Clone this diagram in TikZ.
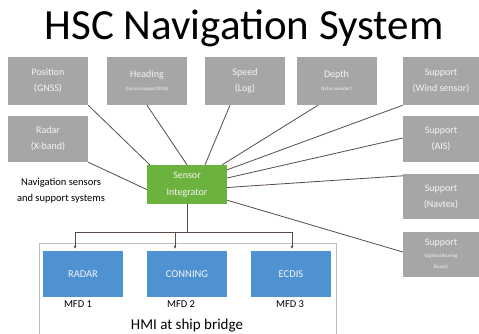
\documentclass[tikz,border=0pt]{standalone}
\usepackage{fontspec}
\setmainfont{Carlito}
\usetikzlibrary{calc,arrows.meta}
\definecolor{boxgray}{RGB}{166,166,166}
\definecolor{txtgray}{RGB}{245,245,245}
\definecolor{sigreen}{RGB}{108,178,62}
\definecolor{mfdblue}{RGB}{78,146,210}
\definecolor{linecol}{RGB}{90,76,68}
\definecolor{hmiframe}{RGB}{190,190,190}
\newcommand{\tinytxt}{\fontsize{5}{6}\selectfont}
\tikzset{
  sensorbox/.style={fill=boxgray, draw=none, minimum width=80pt, minimum height=48pt, inner sep=1pt,
    text=txtgray, align=center, font=\fontsize{10}{16}\selectfont},
  rightbox/.style={sensorbox, minimum width=76pt, minimum height=46pt},
  intbox/.style={fill=sigreen, draw=none, minimum width=80pt, minimum height=39pt, inner sep=1pt,
    text=txtgray, align=center, font=\fontsize{10}{17}\selectfont},
  mfdbox/.style={fill=mfdblue, draw=none, minimum width=80pt, minimum height=46pt,
    text=txtgray, font=\fontsize{10.5}{12}\selectfont},
  link/.style={draw=linecol, line width=0.8pt},
  feed/.style={draw=linecol, line width=0.8pt, -{Latex[length=3pt,width=3pt]}},
  lbl/.style={font=\fontsize{10.5}{12}\selectfont, text=black}
}
\begin{document}
\begin{tikzpicture}[x=1pt,y=-1pt]
\useasboundingbox (0,0) rectangle (479,334);
\fill[white] (0,0) rectangle (479,334);
% title
\node[font=\fontsize{43}{46}\selectfont, anchor=base] (title) at (244,40) {HSC Navigation System};
% HMI frame
\draw[hmiframe, line width=0.8pt] (39,343) -- (39,243) -- (336,243) -- (336,343);
% sensor boxes
\node[sensorbox] (pos) at (48,81) {Position\\(GNSS)};
\node[sensorbox] (head) at (147,81) {Heading\\[-3pt]\tinytxt(Gyrocompass/GNSS)};
\node[sensorbox] (speed) at (245,81) {Speed\\(Log)};
\node[sensorbox] (depth) at (336.5,81) {Depth\\[-3pt]\tinytxt(Echo sounder)};
\node[rightbox, minimum height=48pt] (wind) at (441,81) {Support\\(Wind sensor)};
\node[sensorbox, minimum height=46pt] (radar) at (48,139) {Radar\\(X-band)};
\node[rightbox] (ais) at (441,139) {Support\\(AIS)};
\node[rightbox, minimum height=45pt] (navtex) at (441,196.5) {Support\\(Navtex)};
\node[rightbox, minimum height=45pt] (light) at (441,254.5) {Support\\[-4pt]\tinytxt(Lighted Bearing\\[-5pt]\tinytxt Buoys)};
% integrator
\node[intbox] (si) at (187,184.5) {Sensor\\Integrator};
% caption
\node[align=center, font=\fontsize{10.5}{16}\selectfont] (navtxt) at (61,191) {Navigation sensors\\and support systems};
% MFD boxes
\node[mfdbox] (mradar) at (83,274) {RADAR};
\node[mfdbox] (mconn) at (187,274) {CONNING};
\node[mfdbox] (mecdis) at (291,274) {ECDIS};
\node[lbl] (m1) at (78,304) {MFD 1};
\node[lbl] (m2) at (181,304) {MFD 2};
\node[lbl] (m3) at (290,304) {MFD 3};
\node[font=\fontsize{15}{18}\selectfont, anchor=base] (hmi) at (187,329) {HMI at ship bridge};
% connectors
\draw[link] (pos.south east) -- ($(si.north west)+(3,0)$);
\draw[link] (head.south) -- (si.north);
\draw[link] ($(speed.south)+(-15,0)$) -- ($(si.north)+(18,0)$);
\draw[link] ($(depth.south)+(-18.5,0)$) -- ($(si.north east)+(-5,0)$);
\draw[link] (wind.south west) -- ($(si.north east)+(0,5)$);
\draw[link] ($(ais.west)+(0,-1)$) -- ($(si.east)+(0,-6.5)$);
\draw[link] ($(navtex.north west)+(0,2)$) -- ($(si.east)+(0,3)$);
\draw[link] ($(light.west)+(0,-2.5)$) -- ($(si.south east)+(0,-4)$);
\draw[link] (radar.south east) -- ($(si.west)+(0,5)$);
% bus to MFDs
\coordinate (bj) at ($(si.south)+(0,28)$);
\coordinate (bl) at (75,232);
\coordinate (br) at (292,232);
\draw[link] (si.south) -- (bj);
\draw[link] (bl) -- (br);
\draw[feed] (bl) -- ($(mradar.north)+(-8,-2)$);
\draw[feed] (bj -| 175,0) -- ($(mconn.north)+(-12,-2)$);
\draw[feed] (br) -- ($(mecdis.north)+(1,-2)$);
\end{tikzpicture}
\end{document}
